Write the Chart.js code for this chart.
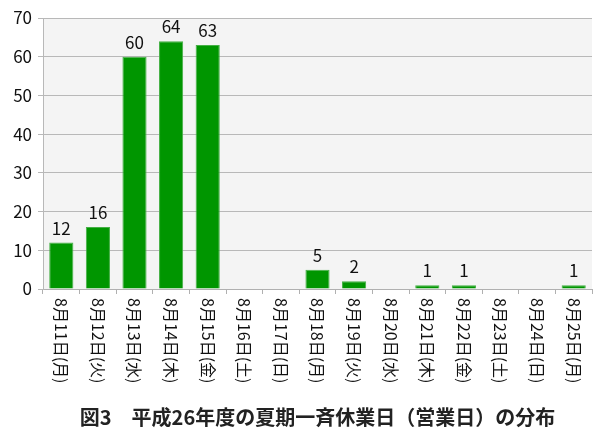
<!DOCTYPE html>
<html lang="ja">
<head>
<meta charset="utf-8">
<script src="https://cdn.jsdelivr.net/npm/chart.js@4/dist/chart.umd.min.js"></script>
<style>
    html, body { margin: 0; padding: 0; background: #fff; }
    #wrap { width: 611px; height: 442px; }
</style>
</head>
<body>
<div id="wrap"><canvas id="holidayChart"></canvas></div>
<script>
const days = ["8月11日(月)", "8月12日(火)", "8月13日(水)", "8月14日(木)", "8月15日(金)",
    "8月16日(土)", "8月17日(日)", "8月18日(月)", "8月19日(火)", "8月20日(水)",
    "8月21日(木)", "8月22日(金)", "8月23日(土)", "8月24日(日)", "8月25日(月)"];
const counts = [12, 16, 60, 64, 63, 0, 0, 5, 2, 0, 1, 1, 0, 0, 1];
const yTicks = [0, 10, 20, 30, 40, 50, 60, 70];
const chartTitle = "図3　平成26年度の夏期一斉休業日（営業日）の分布";

const FONT = "'Noto Sans CJK JP', 'Noto Sans', sans-serif";

// 灰色の背景
const plotBg = {
    id: "plotBg",
    beforeDraw(chart) {
        const { ctx, chartArea: a } = chart;
        ctx.save();
        ctx.fillStyle = "#f4f4f4";
        ctx.fillRect(a.left, a.top, a.right - a.left, a.bottom - a.top);
        ctx.restore();
    }
};

// 棒の上の数値と縦書きの日付
const labelsPlugin = {
    id: "labelsPlugin",
    afterDatasetsDraw(chart) {
        const ctx = chart.ctx;
        const meta = chart.getDatasetMeta(0);
        ctx.save();
        ctx.fillStyle = "#111";
        ctx.font = "17px " + FONT;
        ctx.textAlign = "center";
        ctx.textBaseline = "alphabetic";
        meta.data.forEach((bar, i) => {
            if (counts[i] > 0) ctx.fillText(String(counts[i]), bar.x, bar.y - 8);
        });
        ctx.restore();
    },
    afterDraw(chart) {
        const ctx = chart.ctx;
        const xs = chart.scales.x;
        ctx.save();
        ctx.fillStyle = "#111";
        ctx.font = "16px " + FONT;
        ctx.textAlign = "left";
        ctx.textBaseline = "middle";
        days.forEach((d, i) => {
            const x = xs.getPixelForTick(i);
            ctx.save();
            ctx.translate(x, xs.top + 9);
            ctx.rotate(Math.PI / 2);
            ctx.fillText(d, 0, 0);
            ctx.restore();
        });
        ctx.restore();
    }
};

new Chart(document.getElementById("holidayChart"), {
    type: "bar",
    data: {
        labels: days,
        datasets: [{
            data: counts,
            backgroundColor: "#009600",
            borderColor: "#45b045",
            borderWidth: 1,
            barPercentage: 0.66,
            categoryPercentage: 1.0,
        }]
    },
    options: {
        responsive: true,
        maintainAspectRatio: false,
        animation: false,
        layout: { padding: { top: 18, right: 19, left: 0, bottom: 0 } },
        plugins: {
            legend: { display: false },
            tooltip: { enabled: false },
            title: {
                display: true,
                text: chartTitle,
                position: "bottom",
                fullSize: false,
                color: "#222",
                font: { family: FONT, size: 20, weight: "bold" },
                padding: { top: 6, bottom: 13 }
            }
        },
        scales: {
            x: {
                grid: { display: true, drawOnChartArea: false, tickLength: 5, color: "#b0b0b0" },
                border: { color: "#b0b0b0" },
                ticks: { display: false, autoSkip: false },
                afterFit(scale) { scale.height = 110; }
            },
            y: {
                min: 0,
                max: 70,
                afterBuildTicks(scale) { scale.ticks = yTicks.map(v => ({ value: v })); },
                grid: { color: "#b8b8b8", tickLength: 5 },
                border: { color: "#b8b8b8" },
                ticks: {
                    color: "#111",
                    padding: 6,
                    font: { family: FONT, size: 17 }
                },
                afterFit(scale) { scale.width = 43; }
            }
        }
    },
    plugins: [plotBg, labelsPlugin]
});
</script>
</body>
</html>
